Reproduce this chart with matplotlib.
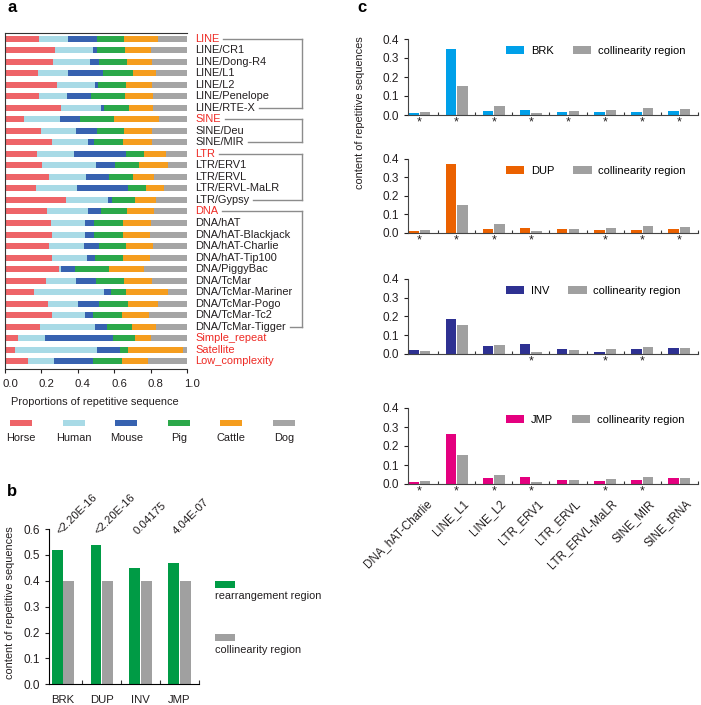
import numpy as np
import matplotlib
matplotlib.use("Agg")
import matplotlib.pyplot as plt
from matplotlib.patches import Rectangle
from matplotlib.lines import Line2D
from matplotlib.transforms import ScaledTranslation

plt.rcParams['font.family'] = ['Liberation Sans', 'DejaVu Sans']
plt.rcParams['font.size'] = 7.9
plt.rcParams['axes.linewidth'] = 0.8

# ---- panel a: proportions of repeat classes per species ----
repeat_classes = ["LINE", "LINE/CR1", "LINE/Dong-R4", "LINE/L1", "LINE/L2", "LINE/Penelope",
                  "LINE/RTE-X", "SINE", "SINE/Deu", "SINE/MIR", "LTR", "LTR/ERV1", "LTR/ERVL",
                  "LTR/ERVL-MaLR", "LTR/Gypsy", "DNA", "DNA/hAT", "DNA/hAT-Blackjack",
                  "DNA/hAT-Charlie", "DNA/hAT-Tip100", "DNA/PiggyBac", "DNA/TcMar",
                  "DNA/TcMar-Mariner", "DNA/TcMar-Pogo", "DNA/TcMar-Tc2", "DNA/TcMar-Tigger",
                  "Simple_repeat", "Satellite", "Low_complexity"]
red_labels = ["LINE", "SINE", "LTR", "DNA", "Simple_repeat", "Satellite", "Low_complexity"]
groups = [("LINE", "LINE/RTE-X"), ("SINE", "SINE/MIR"), ("LTR", "LTR/Gypsy"),
          ("DNA", "DNA/TcMar-Tigger")]

species = ["Horse", "Human", "Mouse", "Pig", "Cattle", "Dog"]
horse = [0.187, 0.275, 0.264, 0.180, 0.286, 0.189, 0.308, 0.106, 0.198, 0.261, 0.174, 0.204,
         0.242, 0.171, 0.336, 0.231, 0.253, 0.257, 0.242, 0.261, 0.297, 0.226, 0.160, 0.237,
         0.259, 0.193, 0.073, 0.055, 0.125]
human = [0.161, 0.206, 0.206, 0.165, 0.209, 0.150, 0.220, 0.194, 0.191, 0.198, 0.207, 0.297,
         0.200, 0.224, 0.231, 0.222, 0.187, 0.182, 0.191, 0.191, 0.013, 0.165, 0.387, 0.165,
         0.182, 0.299, 0.149, 0.451, 0.147]
mouse = [0.156, 0.026, 0.046, 0.194, 0.017, 0.134, 0.015, 0.110, 0.116, 0.031, 0.281, 0.106,
         0.130, 0.283, 0.020, 0.075, 0.050, 0.050, 0.084, 0.044, 0.075, 0.110, 0.037, 0.116,
         0.044, 0.066, 0.369, 0.127, 0.213]
pig = [0.150, 0.154, 0.156, 0.161, 0.152, 0.189, 0.139, 0.187, 0.147, 0.160, 0.103, 0.130,
       0.130, 0.099, 0.128, 0.143, 0.156, 0.160, 0.149, 0.154, 0.187, 0.154, 0.081, 0.160,
       0.158, 0.138, 0.121, 0.042, 0.158]
cattle = [0.183, 0.143, 0.136, 0.130, 0.141, 0.149, 0.128, 0.250, 0.156, 0.158, 0.117, 0.160,
          0.117, 0.097, 0.114, 0.145, 0.156, 0.149, 0.145, 0.147, 0.189, 0.150, 0.231, 0.161,
          0.150, 0.132, 0.092, 0.303, 0.141]
dog = [0.161, 0.196, 0.193, 0.169, 0.194, 0.189, 0.189, 0.152, 0.193, 0.193, 0.117, 0.103,
       0.180, 0.127, 0.171, 0.183, 0.198, 0.204, 0.189, 0.204, 0.239, 0.193, 0.105, 0.161,
       0.207, 0.172, 0.196, 0.022, 0.217]
species_colors = ["#EE6468", "#A8DAE6", "#3762B0", "#2BA84A", "#F59D1E", "#A5A5A5"]

# ---- panel b: total repeat content ----
sv_types = ["BRK", "DUP", "INV", "JMP"]
rearrangement = [0.52, 0.538, 0.45, 0.47]
collinearity = [0.40, 0.40, 0.40, 0.40]
pvalues = ["<2.20E-16", "<2.20E-16", "0.04175", "4.04E-07"]

# ---- panel c: repeat families per SV type ----
families = ["DNA_hAT-Charlie", "LINE_L1", "LINE_L2", "LTR_ERV1", "LTR_ERVL",
            "LTR_ERVL-MaLR", "SINE_MIR", "SINE_tRNA"]
collinear_c = [0.018, 0.153, 0.047, 0.012, 0.021, 0.028, 0.037, 0.032]
brk = [0.009, 0.347, 0.023, 0.026, 0.016, 0.014, 0.014, 0.023]
dup = [0.009, 0.373, 0.021, 0.025, 0.020, 0.017, 0.018, 0.022]
inv = [0.019, 0.185, 0.040, 0.054, 0.026, 0.012, 0.025, 0.032]
jmp = [0.012, 0.264, 0.030, 0.037, 0.021, 0.016, 0.023, 0.030]
brk_sig = [1, 1, 1, 1, 1, 1, 1, 1]
dup_sig = [1, 1, 1, 1, 0, 1, 1, 1]
inv_sig = [0, 0, 0, 1, 0, 1, 1, 0]
jmp_sig = [1, 1, 1, 1, 0, 1, 1, 0]

W, H = 701, 705
fig = plt.figure(figsize=(W / 100, H / 100), dpi=100)


def box(l, t, r, b):
    return [l / W, 1 - b / H, (r - l) / W, (b - t) / H]


def shift(texts, dx_px, dy_px=0):
    for t in texts:
        t.set_transform(t.get_transform() + ScaledTranslation(dx_px / 100, dy_px / 100,
                                                              fig.dpi_scale_trans))


TXT = "#231F20"
RED = "#EE2A24"
GREY = "#A3A3A3"

# ================= panel a =================
ax = fig.add_axes(box(5, 33, 187, 369))
values = np.array([horse, human, mouse, pig, cattle, dog])
values = values / values.sum(axis=0)
ypos = np.arange(len(repeat_classes))
left = np.zeros(len(repeat_classes))
for vals, col in zip(values, species_colors):
    ax.barh(ypos, vals, left=left, height=0.52, color=col, linewidth=0)
    left += vals
ax.set_xlim(0, 1)
ax.set_ylim(len(repeat_classes) - 0.33, -0.49)
ax.set_yticks([])
ax.set_xticks(np.arange(0, 1.01, 0.2))
ax.set_xticklabels(["0.0", "0.2", "0.4", "0.6", "0.8", "1.0"])
ax.tick_params(axis='x', direction='out', length=3, width=0.8, pad=4, labelsize=8.2, colors=TXT)
shift(ax.get_xticklabels(), 5)
ax.spines['right'].set_visible(False)
for s in ['left', 'top', 'bottom']:
    ax.spines[s].set_color("#333333")
fig.text(94.5 / W, 1 - 402 / H, "Proportions of repetitive sequence", ha='center', va='center',
         color=TXT)

label_texts = {}
for i, name in enumerate(repeat_classes):
    t = ax.text(1.044, i, name, transform=ax.get_yaxis_transform(), ha='left', va='center',
                fontsize=7.9, color=RED if name in red_labels else TXT)
    label_texts[name] = t

fig.canvas.draw()
renderer = fig.canvas.get_renderer()
xv = (302 - 5) / 182
for first, last in groups:
    y0 = repeat_classes.index(first)
    y1 = repeat_classes.index(last)
    tr = ax.get_yaxis_transform()
    for name, yy in [(first, y0), (last, y1)]:
        bb = label_texts[name].get_window_extent(renderer)
        xe = ax.transAxes.inverted().transform((bb.x1 + 4, 0))[0]
        ax.add_line(Line2D([xe, xv], [yy, yy], transform=tr, color="#8C8C8C", lw=1,
                           clip_on=False))
    ax.add_line(Line2D([xv, xv], [y0, y1], transform=tr, color="#8C8C8C", lw=1, clip_on=False))

for i, (name, col) in enumerate(zip(species, species_colors)):
    cx = 21 + 52.6 * i
    fig.patches.append(Rectangle(((cx - 11) / W, 1 - 426 / H), 22 / W, 6 / H,
                                 transform=fig.transFigure, color=col, lw=0))
    fig.text(cx / W, 1 - 438 / H, name, ha='center', va='center', color=TXT)

fig.text(7 / W, 1 - 8 / H, "a", fontsize=12, fontweight='bold', va='center', ha='left')

# ================= panel b =================
axb = fig.add_axes(box(49, 529, 199, 684.3))
x = np.arange(len(sv_types))
axb.bar(x - 0.15, rearrangement, width=0.28, color="#009B45", lw=0)
axb.bar(x + 0.15, collinearity, width=0.28, color="#A0A0A0", lw=0)
axb.set_xlim(-0.36, 3.5)
axb.set_ylim(0, 0.6)
axb.set_yticks(np.arange(0, 0.61, 0.1))
axb.set_yticklabels(["0.0", "0.1", "0.2", "0.3", "0.4", "0.5", "0.6"])
axb.set_xticks(x)
axb.set_xticklabels(sv_types)
axb.set_xticks(x + 0.5, minor=True)
axb.tick_params(axis='x', which='major', length=0, pad=8, labelsize=8.2, colors=TXT)
axb.tick_params(axis='x', which='minor', direction='in', length=3, width=0.8, colors="#333333")
axb.tick_params(axis='y', direction='out', length=3, width=0.8, labelsize=8.5, colors=TXT)
axb.spines['right'].set_visible(False)
axb.spines['top'].set_visible(False)
for i, p in enumerate(pvalues):
    axb.text(i - 0.04, 0.57, p, rotation=45, rotation_mode='anchor', ha='left', va='bottom',
             fontsize=8.2, color=TXT)
fig.text(10 / W, 1 - 603 / H, "content of repetitive sequences", rotation=90, ha='center',
         va='center', color=TXT)
fig.patches.append(Rectangle((215 / W, 1 - 587.5 / H), 20 / W, 7 / H, transform=fig.transFigure,
                             color="#009B45", lw=0))
fig.text(215 / W, 1 - 596 / H, "rearrangement region", ha='left', va='center', color=TXT)
fig.patches.append(Rectangle((215 / W, 1 - 640.5 / H), 20 / W, 7 / H, transform=fig.transFigure,
                             color="#A0A0A0", lw=0))
fig.text(215 / W, 1 - 650 / H, "collinearity region", ha='left', va='center', color=TXT)
fig.text(7 / W, 1 - 492 / H, "b", fontsize=12, fontweight='bold', va='center', ha='left')

# ================= panel c =================
panels = [("BRK", brk, brk_sig, "#00A0E9", 39, 115),
          ("DUP", dup, dup_sig, "#EB6100", 159, 233),
          ("INV", inv, inv_sig, "#2E3192", 279, 354),
          ("JMP", jmp, jmp_sig, "#E4007F", 408, 484)]
xc = np.arange(len(families))
for k, (name, vals, sig, col, top, bottom) in enumerate(panels):
    axc = fig.add_axes(box(408, top, 698, bottom))
    axc.bar(xc - 0.155, vals, width=0.28, color=col, lw=0, label=name)
    axc.bar(xc + 0.155, collinear_c, width=0.28, color="#A0A0A0", lw=0,
            label="collinearity region")
    axc.set_xlim(-0.31, 7.5)
    axc.set_ylim(0, 0.4)
    axc.set_yticks([0, 0.1, 0.2, 0.3, 0.4])
    axc.set_yticklabels(["0.0", "0.1", "0.2", "0.3", "0.4"])
    axc.tick_params(axis='y', direction='out', length=3, width=0.8, labelsize=8.5, colors=TXT)
    axc.set_xticks(xc + 0.5, minor=True)
    axc.tick_params(axis='x', which='minor', direction='in', length=2.5, width=0.8,
                    colors="#333333")
    axc.spines['right'].set_visible(False)
    axc.spines['top'].set_visible(False)
    for s in ['left', 'bottom']:
        axc.spines[s].set_color("#444444")
    for i, s in enumerate(sig):
        if s:
            axc.text(i, -0.1, "*", transform=axc.get_xaxis_transform(), ha='center',
                     va='center', fontsize=9, color=TXT)
    if k == len(panels) - 1:
        axc.set_xticks(xc)
        axc.set_xticklabels(families, rotation=45, ha='right', rotation_mode='anchor')
        axc.tick_params(axis='x', which='major', length=0, pad=10, labelsize=8.3, colors=TXT)
        shift(axc.get_xticklabels(), 6)
    else:
        axc.set_xticks([])
    axc.legend(loc='center left', bbox_to_anchor=(0.338, 0.84), ncol=2, frameon=False,
               borderpad=0, borderaxespad=0, handlelength=1.65, handleheight=0.7,
               handletextpad=0.6, columnspacing=1.7, fontsize=8)

fig.text(360 / W, 1 - 113 / H, "content of repetitive sequences", rotation=90, ha='center',
         va='center', color=TXT)
fig.text(357 / W, 1 - 8 / H, "c", fontsize=12, fontweight='bold', va='center', ha='left')

fig.savefig("out.png", dpi=100)
